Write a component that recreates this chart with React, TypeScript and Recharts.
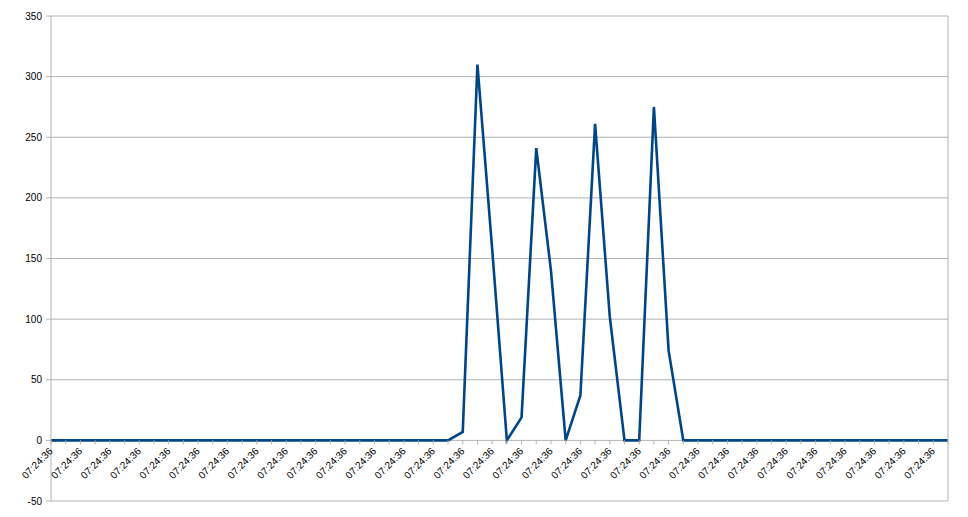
import { LineChart, Line, XAxis, YAxis, CartesianGrid } from "recharts";

// all samples share the same timestamp label
const times = [
  "07:24:36", "07:24:36", "07:24:36", "07:24:36", "07:24:36", "07:24:36", "07:24:36", "07:24:36", "07:24:36", "07:24:36",
  "07:24:36", "07:24:36", "07:24:36", "07:24:36", "07:24:36", "07:24:36", "07:24:36", "07:24:36", "07:24:36", "07:24:36",
  "07:24:36", "07:24:36", "07:24:36", "07:24:36", "07:24:36", "07:24:36", "07:24:36", "07:24:36", "07:24:36", "07:24:36",
  "07:24:36", "07:24:36", "07:24:36", "07:24:36", "07:24:36", "07:24:36", "07:24:36", "07:24:36", "07:24:36", "07:24:36",
  "07:24:36", "07:24:36", "07:24:36", "07:24:36", "07:24:36", "07:24:36", "07:24:36", "07:24:36", "07:24:36", "07:24:36",
  "07:24:36", "07:24:36", "07:24:36", "07:24:36", "07:24:36", "07:24:36", "07:24:36", "07:24:36", "07:24:36", "07:24:36",
  "07:24:36", "07:24:36",
];

const values = [
  0, 0, 0, 0, 0, 0, 0, 0, 0, 0,
  0, 0, 0, 0, 0, 0, 0, 0, 0, 0,
  0, 0, 0, 0, 0, 0, 0, 0, 7, 310,
  158, 0, 19, 241, 140, 0, 37, 261, 102, 0,
  0, 275, 74, 0, 0, 0, 0, 0, 0, 0,
  0, 0, 0, 0, 0, 0, 0, 0, 0, 0,
  0, 0,
];

const yTicks = [-50, 0, 50, 100, 150, 200, 250, 300, 350];
const Y_MIN = -50;
const Y_MAX = 350;

const W = 968;
const H = 517;
const X_AXIS_H = 1;
const MARGIN = { top: 16, right: 0, bottom: 15, left: 0 };
const PLOT_H = H - MARGIN.top - MARGIN.bottom - X_AXIS_H;

const FONT = "'Liberation Sans', Arial, sans-serif";
const GRID = "#b3b3b3";

const data = times.map((t, i) => ({ time: t, value: values[i] }));

// x axis crosses the y axis at 0, so ticks and labels hang off the zero line
const TimeTick = (props: any) => {
  const { x, y, index, payload } = props;
  const zeroY = y - (PLOT_H * (0 - Y_MIN)) / (Y_MAX - Y_MIN);
  const ty = zeroY + 9;
  return (
    <g>
      <line x1={x} y1={zeroY} x2={x} y2={zeroY + 4} stroke={GRID} />
      {index % 2 === 0 && (
        <text
          x={x}
          y={ty}
          dy="0.35em"
          textAnchor="end"
          fontSize={10}
          fontFamily={FONT}
          fill="#000"
          transform={`rotate(-45 ${x} ${ty})`}
        >
          {payload.value}
        </text>
      )}
    </g>
  );
};

export default function App() {
  return (
    <div style={{ position: "absolute", left: 0, top: 0, background: "#fff" }}>
      <LineChart width={W} height={H} data={data} margin={MARGIN}>
        <CartesianGrid horizontal vertical={false} stroke={GRID} />
        <XAxis
          dataKey="time"
          height={X_AXIS_H}
          axisLine={false}
          tickLine={false}
          tickSize={0}
          tickMargin={0}
          interval={0}
          tick={<TimeTick />}
        />
        <YAxis
          width={51}
          domain={[Y_MIN, Y_MAX]}
          ticks={yTicks}
          interval={0}
          axisLine={{ stroke: GRID }}
          tickLine={{ stroke: GRID }}
          tickSize={5}
          tickMargin={4}
          tick={{ fontSize: 10, fontFamily: FONT, fill: "#000" }}
        />
        <YAxis
          yAxisId="border"
          orientation="right"
          width={20}
          tick={false}
          tickLine={false}
          axisLine={{ stroke: GRID }}
        />
        <Line
          type="linear"
          dataKey="value"
          stroke="#004586"
          strokeWidth={2.6}
          dot={false}
          isAnimationActive={false}
        />
      </LineChart>
    </div>
  );
}
